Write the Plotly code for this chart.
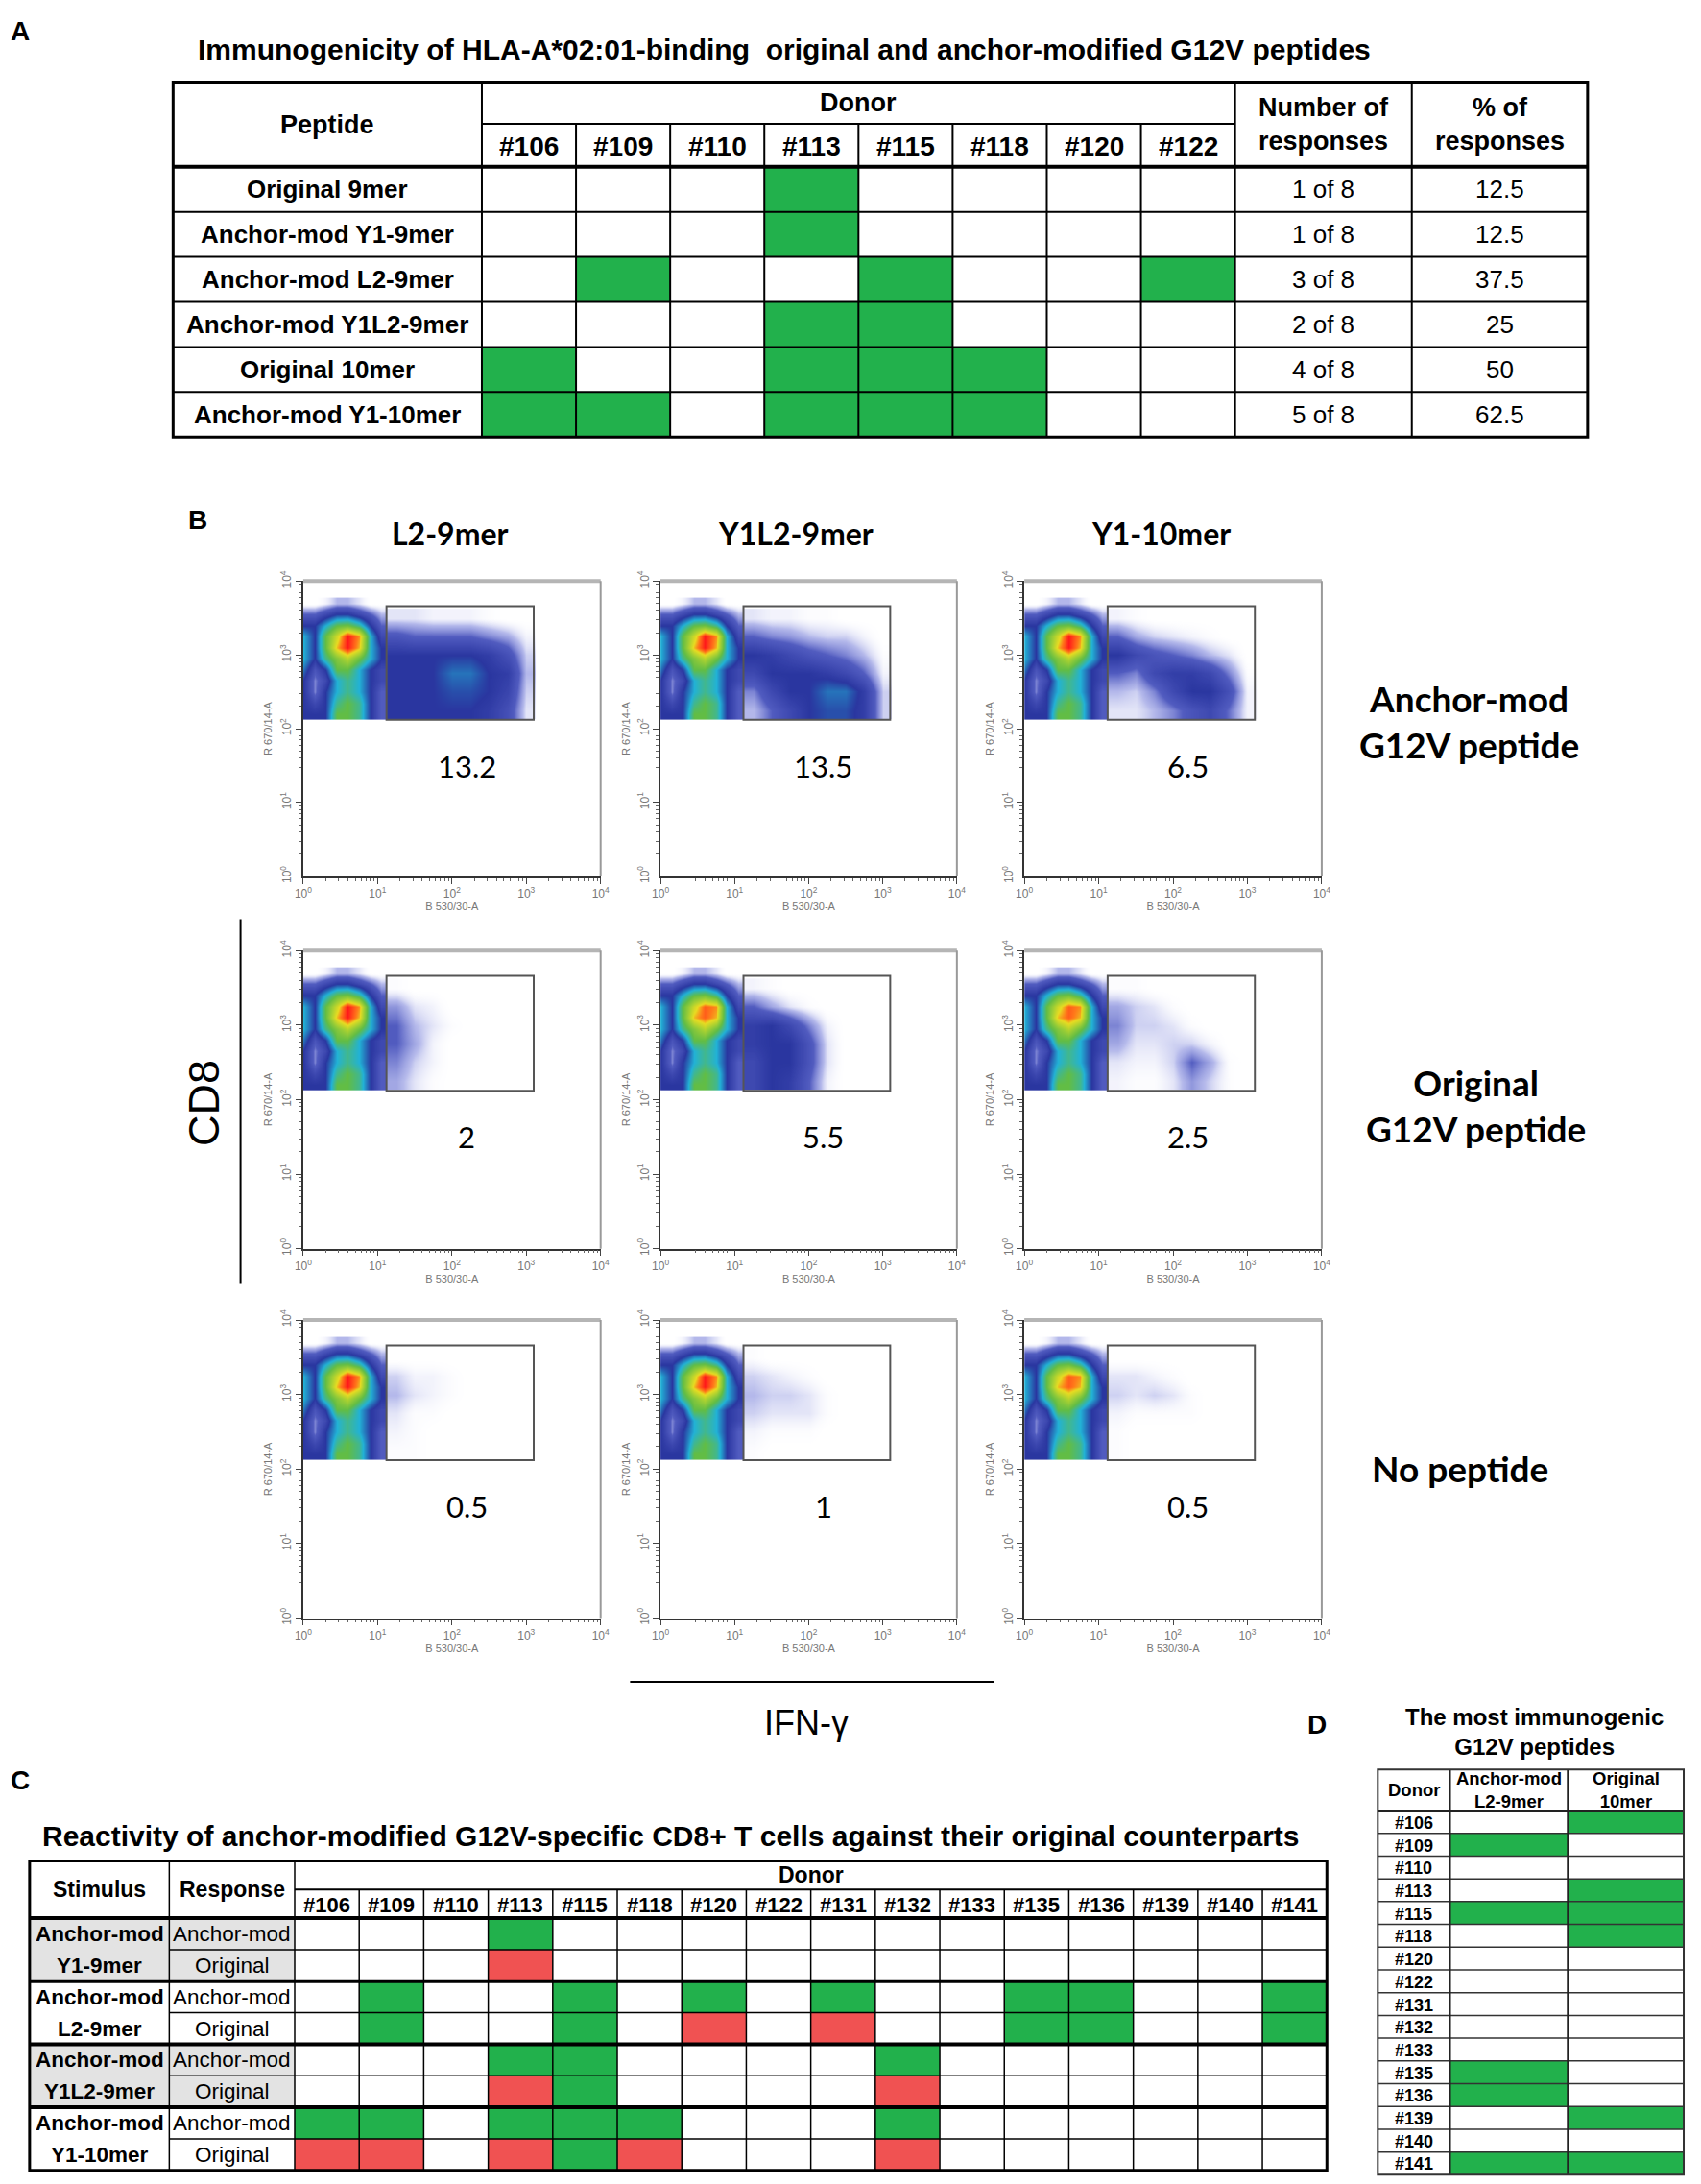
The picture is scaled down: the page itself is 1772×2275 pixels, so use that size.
import numpy as np
import plotly.graph_objects as go

# ---------------- data ----------------
# Panel A
A_DONORS = ['#106', '#109', '#110', '#113', '#115', '#118', '#120', '#122']
A_PEPTIDES = ['Original 9mer', 'Anchor-mod Y1-9mer', 'Anchor-mod L2-9mer',
              'Anchor-mod Y1L2-9mer', 'Original 10mer', 'Anchor-mod Y1-10mer']
A_RESPONSE = [
    [0, 0, 0, 1, 0, 0, 0, 0],
    [0, 0, 0, 1, 0, 0, 0, 0],
    [0, 1, 0, 0, 1, 0, 0, 1],
    [0, 0, 0, 1, 1, 0, 0, 0],
    [1, 0, 0, 1, 1, 1, 0, 0],
    [1, 1, 0, 1, 1, 1, 0, 0],
]
A_NUMBER = ['1 of 8', '1 of 8', '3 of 8', '2 of 8', '4 of 8', '5 of 8']
A_PERCENT = [12.5, 12.5, 37.5, 25, 50, 62.5]

# Panel B (flow plots, log10 decades)
B_COLUMNS = ['L2-9mer', 'Y1L2-9mer', 'Y1-10mer']
B_ROWS = ['Anchor-mod<br>G12V peptide', 'Original<br>G12V peptide', 'No peptide']
B_FREQ = [[13.2, 13.5, 6.5], [2, 5.5, 2.5], [0.5, 1, 0.5]]
GATE_X = [1.12, 3.1]
GATE_Y = [2.12, 3.66]

# CD8+ IFN-g negative population, density level (top row first)
NEG_X = [0.0, 0.15, 0.3, 0.45, 0.6, 0.75, 0.9, 1.05]
NEG_Y = [3.7, 3.55, 3.4, 3.25, 3.1, 2.95, 2.8, 2.65, 2.5, 2.35, 2.2]
NEG_GRID = [
    [0.0, 0.0, 0.2, 0.5, 0.5, 0.3, 0.0, 0.0],
    [1.0, 1.0, 1.5, 2.0, 2.0, 1.5, 1.0, 0.5],
    [2.0, 2.0, 3.0, 4.0, 4.2, 3.5, 2.0, 1.0],
    [3.0, 2.0, 4.0, 5.5, 7.0, 6.2, 3.0, 1.5],
    [3.0, 2.0, 4.0, 6.0, 7.0, 6.0, 3.0, 2.0],
    [3.0, 2.0, 3.5, 4.5, 5.2, 4.2, 3.0, 2.0],
    [2.5, 1.2, 2.0, 4.0, 4.0, 3.0, 2.0, 1.5],
    [2.0, 0.8, 1.5, 3.0, 3.5, 3.0, 2.0, 1.5],
    [2.0, 0.8, 2.0, 3.0, 3.5, 3.0, 2.0, 1.0],
    [2.0, 1.5, 2.0, 3.5, 4.0, 3.5, 2.0, 1.0],
    [2.0, 2.0, 2.0, 4.0, 4.0, 3.5, 2.0, 1.0],
]
CORE_PEAK = [[7, 7, 7], [7, 6.5, 6.5], [7, 7, 6.5]]

# IFN-g positive events (top row first)
POS_X = [1.25, 1.5, 1.75, 2.0, 2.25, 2.5, 2.75, 3.0]
POS_Y = [3.5, 3.25, 3.0, 2.75, 2.5, 2.25]
POS_ANCHOR_L2 = [
    [0.3, 0.3, 0.2, 0.2, 0.2, 0.1, 0.0, 0.0],
    [1.2, 1.0, 1.0, 1.0, 1.0, 0.8, 0.6, 0.2],
    [2.0, 2.0, 2.0, 2.0, 2.0, 1.8, 1.3, 0.4],
    [2.0, 2.0, 2.0, 2.5, 2.5, 2.0, 1.8, 0.5],
    [2.0, 2.0, 2.0, 2.2, 2.2, 2.0, 1.6, 0.4],
    [2.0, 2.0, 2.0, 2.0, 2.0, 1.8, 1.3, 0.3],
]
POS_ANCHOR_Y1L2 = [
    [0.3, 0.2, 0.2, 0.1, 0.1, 0.0, 0.0, 0.0],
    [1.0, 0.8, 0.7, 0.5, 0.4, 0.4, 0.2, 0.0],
    [2.0, 1.8, 1.5, 1.2, 1.0, 0.8, 0.5, 0.1],
    [1.5, 2.0, 2.0, 2.0, 1.8, 1.5, 1.0, 0.2],
    [0.8, 1.5, 2.0, 2.0, 2.5, 2.5, 1.8, 0.4],
    [0.5, 1.0, 1.5, 2.0, 2.2, 2.2, 1.8, 0.4],
]
POS_ANCHOR_Y1_10 = [
    [0.2, 0.1, 0.0, 0.0, 0.0, 0.0, 0.0, 0.0],
    [1.0, 0.6, 0.4, 0.3, 0.2, 0.1, 0.0, 0.0],
    [2.0, 1.5, 1.2, 1.0, 0.8, 0.5, 0.3, 0.0],
    [1.0, 0.8, 1.5, 1.8, 1.8, 1.5, 0.8, 0.1],
    [0.5, 0.4, 0.8, 1.5, 2.0, 2.0, 1.3, 0.2],
    [0.3, 0.3, 0.5, 0.8, 1.2, 1.5, 0.9, 0.2],
]
POS_ORIG_L2 = [
    [0.1, 0.0, 0.0, 0.0, 0.0, 0.0, 0.0, 0.0],
    [0.7, 0.3, 0.2, 0.0, 0.0, 0.0, 0.0, 0.0],
    [1.0, 0.5, 0.3, 0.1, 0.0, 0.0, 0.0, 0.0],
    [1.0, 0.6, 0.2, 0.0, 0.0, 0.0, 0.0, 0.0],
    [0.8, 0.4, 0.2, 0.0, 0.0, 0.0, 0.0, 0.0],
    [0.6, 0.3, 0.1, 0.0, 0.0, 0.0, 0.0, 0.0],
]
POS_ORIG_Y1L2 = [
    [0.2, 0.1, 0.0, 0.0, 0.0, 0.0, 0.0, 0.0],
    [1.0, 0.6, 0.3, 0.1, 0.0, 0.0, 0.0, 0.0],
    [1.8, 2.0, 1.5, 0.8, 0.2, 0.0, 0.0, 0.0],
    [1.8, 2.0, 2.0, 1.2, 0.3, 0.0, 0.0, 0.0],
    [1.5, 2.0, 2.0, 1.2, 0.3, 0.0, 0.0, 0.0],
    [1.5, 2.0, 1.8, 1.0, 0.2, 0.0, 0.0, 0.0],
]
POS_ORIG_Y1_10 = [
    [0.1, 0.1, 0.0, 0.0, 0.0, 0.0, 0.0, 0.0],
    [0.6, 0.4, 0.3, 0.1, 0.0, 0.0, 0.0, 0.0],
    [0.8, 0.4, 0.4, 0.3, 0.1, 0.0, 0.0, 0.0],
    [0.6, 0.3, 0.3, 0.4, 0.4, 0.2, 0.0, 0.0],
    [0.3, 0.2, 0.2, 0.4, 1.0, 0.6, 0.1, 0.0],
    [0.2, 0.1, 0.1, 0.3, 0.7, 0.4, 0.1, 0.0],
]
POS_NONE_L2 = [
    [0.0, 0.0, 0.0, 0.0, 0.0, 0.0, 0.0, 0.0],
    [0.4, 0.2, 0.2, 0.1, 0.0, 0.0, 0.0, 0.0],
    [0.5, 0.3, 0.2, 0.1, 0.0, 0.0, 0.0, 0.0],
    [0.3, 0.1, 0.1, 0.0, 0.0, 0.0, 0.0, 0.0],
    [0.2, 0.1, 0.0, 0.0, 0.0, 0.0, 0.0, 0.0],
    [0.1, 0.1, 0.0, 0.0, 0.0, 0.0, 0.0, 0.0],
]
POS_NONE_Y1L2 = [
    [0.1, 0.0, 0.0, 0.0, 0.0, 0.0, 0.0, 0.0],
    [0.4, 0.3, 0.2, 0.1, 0.0, 0.0, 0.0, 0.0],
    [0.5, 0.4, 0.4, 0.3, 0.1, 0.0, 0.0, 0.0],
    [0.4, 0.3, 0.3, 0.3, 0.1, 0.0, 0.0, 0.0],
    [0.2, 0.1, 0.1, 0.1, 0.0, 0.0, 0.0, 0.0],
    [0.1, 0.0, 0.0, 0.0, 0.0, 0.0, 0.0, 0.0],
]
POS_NONE_Y1_10 = [
    [0.0, 0.0, 0.0, 0.0, 0.0, 0.0, 0.0, 0.0],
    [0.3, 0.3, 0.2, 0.1, 0.0, 0.0, 0.0, 0.0],
    [0.4, 0.3, 0.4, 0.3, 0.1, 0.0, 0.0, 0.0],
    [0.2, 0.1, 0.1, 0.1, 0.1, 0.0, 0.0, 0.0],
    [0.1, 0.0, 0.0, 0.0, 0.0, 0.0, 0.0, 0.0],
    [0.1, 0.0, 0.0, 0.0, 0.0, 0.0, 0.0, 0.0],
]
POS_GRIDS = [
    [POS_ANCHOR_L2, POS_ANCHOR_Y1L2, POS_ANCHOR_Y1_10],
    [POS_ORIG_L2, POS_ORIG_Y1L2, POS_ORIG_Y1_10],
    [POS_NONE_L2, POS_NONE_Y1L2, POS_NONE_Y1_10],
]

# Panel C
C_DONORS = ['#106', '#109', '#110', '#113', '#115', '#118', '#120', '#122',
            '#131', '#132', '#133', '#135', '#136', '#139', '#140', '#141']
C_STIMULI = ['Y1-9mer', 'L2-9mer', 'Y1L2-9mer', 'Y1-10mer']
# 1 = response (green), 2 = no cross-reactivity (red)
C_ANCHOR = [
    [0, 0, 0, 1, 0, 0, 0, 0, 0, 0, 0, 0, 0, 0, 0, 0],
    [0, 1, 0, 0, 1, 0, 1, 0, 1, 0, 0, 1, 1, 0, 0, 1],
    [0, 0, 0, 1, 1, 0, 0, 0, 0, 1, 0, 0, 0, 0, 0, 0],
    [1, 1, 0, 1, 1, 1, 0, 0, 0, 1, 0, 0, 0, 0, 0, 0],
]
C_ORIGINAL = [
    [0, 0, 0, 2, 0, 0, 0, 0, 0, 0, 0, 0, 0, 0, 0, 0],
    [0, 1, 0, 0, 1, 0, 2, 0, 2, 0, 0, 1, 1, 0, 0, 1],
    [0, 0, 0, 2, 1, 0, 0, 0, 0, 2, 0, 0, 0, 0, 0, 0],
    [2, 2, 0, 2, 1, 2, 0, 0, 0, 2, 0, 0, 0, 0, 0, 0],
]

# Panel D
D_DONORS = C_DONORS
D_ANCHOR_L2 = [0, 1, 0, 0, 1, 0, 0, 0, 0, 0, 0, 1, 1, 0, 0, 1]
D_ORIGINAL_10 = [1, 0, 0, 1, 1, 1, 0, 0, 0, 0, 0, 0, 0, 1, 0, 1]

# ---------------- styling / helpers ----------------
W, H = 1772, 2275
OFF = 8  # default body margin of the html page
FIG_W, FIG_H = W - 2 * OFF, H - 2 * OFF
ARIAL = 'Liberation Sans, Arial, sans-serif'
CALIBRI = 'Lato, Open Sans, sans-serif'
GREEN = '#22B14C'
RED = '#F05252'
GRAY = '#E3E3E3'
CELL_FILL = {0: 'white', 1: GREEN, 2: RED}

FLOW_SCALE = [
    [0.0, 'rgba(255,255,255,0)'],
    [0.07, 'rgba(90,100,210,0.45)'],
    [1 / 7, 'rgba(50,62,180,0.85)'],
    [2 / 7, '#2a36a0'],
    [3 / 7, '#22b2d6'],
    [4 / 7, '#62bd45'],
    [5 / 7, '#a9d132'],
    [5.8 / 7, '#e8dc22'],
    [6.3 / 7, '#ff7a1a'],
    [1.0, '#ff1a1a'],
]

shapes = []
annotations = []


def px(x):
    return (x - OFF) / FIG_W


def py(y):
    return 1 - (y - OFF) / FIG_H


def rect(x0, y0, x1, y1, fill, lw=0, lc='black'):
    shapes.append(dict(type='rect', xref='paper', yref='paper',
                       x0=px(x0), x1=px(x1), y0=py(y1), y1=py(y0),
                       fillcolor=fill, line=dict(width=lw, color=lc)))


def hline(x0, x1, y, w=2, c='black'):
    shapes.append(dict(type='line', xref='paper', yref='paper',
                       x0=px(x0), x1=px(x1), y0=py(y), y1=py(y),
                       line=dict(color=c, width=w)))


def vline(x, y0, y1, w=2, c='black'):
    shapes.append(dict(type='line', xref='paper', yref='paper',
                       x0=px(x), x1=px(x), y0=py(y0), y1=py(y1),
                       line=dict(color=c, width=w)))


def text(x, y, s, size, bold=False, family=ARIAL, color='black', **kw):
    annotations.append(dict(xref='paper', yref='paper', x=px(x), y=py(y),
                            text=f'<b>{s}</b>' if bold else s, showarrow=False,
                            font=dict(size=size, family=family, color=color),
                            xanchor='center', yanchor='middle', **kw))


fig = go.Figure()

# ---------------- panel A ----------------
text(12, 22, 'A', 28, bold=True)
text(816, 41, 'Immunogenicity of HLA-A*02:01-binding  original and anchor-modified G12V peptides', 30, bold=True)

a_left, a_top, a_donor_line, a_head = 173, 75, 119, 164
a_row_h = 47.3
a_pep_w, a_don_w, a_num_w, a_pct_w = 325, 99.1, 186, 185
a_don_x = [a_left + a_pep_w + a_don_w * j for j in range(len(A_DONORS) + 1)]
a_num_x = a_don_x[-1]
a_pct_x = a_num_x + a_num_w
a_right = a_pct_x + a_pct_w
a_rows_y = [a_head + a_row_h * i for i in range(len(A_PEPTIDES) + 1)]

for i, row in enumerate(A_RESPONSE):
    for j, v in enumerate(row):
        if v:
            rect(a_don_x[j], a_rows_y[i], a_don_x[j + 1], a_rows_y[i + 1], GREEN)
for y in a_rows_y[1:-1]:
    hline(a_left, a_right, y, 2)
hline(a_don_x[0], a_don_x[-1], a_donor_line, 2)
hline(a_left, a_right, a_head, 4)
for x in a_don_x[1:-1]:
    vline(x, a_donor_line, a_rows_y[-1], 2)
for x in [a_don_x[0], a_num_x, a_pct_x]:
    vline(x, a_top, a_rows_y[-1], 2)
rect(a_left, a_top, a_right, a_rows_y[-1], 'rgba(0,0,0,0)', lw=3)

text((a_left + a_don_x[0]) / 2, (a_top + a_head) / 2, 'Peptide', 27, bold=True)
text((a_don_x[0] + a_don_x[-1]) / 2, (a_top + a_donor_line) / 2, 'Donor', 27, bold=True)
for j, d in enumerate(A_DONORS):
    text((a_don_x[j] + a_don_x[j + 1]) / 2, (a_donor_line + a_head) / 2 + 1, d, 28, bold=True)
text((a_num_x + a_pct_x) / 2, (a_top + a_head) / 2, 'Number of<br>responses', 27, bold=True)
text((a_pct_x + a_right) / 2, (a_top + a_head) / 2, '% of<br>responses', 27, bold=True)
for i, pep in enumerate(A_PEPTIDES):
    yc = (a_rows_y[i] + a_rows_y[i + 1]) / 2
    text((a_left + a_don_x[0]) / 2, yc, pep, 26, bold=True)
    text((a_num_x + a_pct_x) / 2, yc, A_NUMBER[i], 26)
    text((a_pct_x + a_right) / 2, yc, f'{A_PERCENT[i]:g}', 26)

# ---------------- panel B ----------------
text(199, 535, 'B', 28, bold=True)
PLOT_X = [(310, 623), (686, 998), (1069, 1382)]
PLOT_Y = [(599, 909), (987, 1300), (1375, 1688)]
COL_TITLE_X = [465, 828, 1213]
ROW_LABEL_XY = [(1537, 746), (1544, 1150), (1528, 1531)]

tick_vals = [0, 1, 2, 3, 4]
tick_text = [f'10<sup>{k}</sup>' for k in tick_vals]
minor_vals = [k + np.log10(m) for k in range(4) for m in range(2, 10)]

for r in range(3):
    for c in range(3):
        n = r * 3 + c + 1
        xr = 'x' if n == 1 else f'x{n}'
        yr = 'y' if n == 1 else f'y{n}'
        neg = np.minimum(np.flipud(np.array(NEG_GRID)), CORE_PEAK[r][c])
        pos = np.flipud(np.array(POS_GRIDS[r][c]))
        for gx, gy, gz in [(NEG_X, NEG_Y[::-1], neg), (POS_X, POS_Y[::-1], pos)]:
            fig.add_trace(go.Heatmap(x=gx, y=gy, z=gz, xaxis=xr, yaxis=yr,
                                     zmin=0, zmax=7, colorscale=FLOW_SCALE,
                                     showscale=False, zsmooth='best', hoverinfo='skip'))
        axis_common = dict(range=[0, 4], showgrid=False, zeroline=False,
                           showline=True, linecolor='#333', linewidth=1.5,
                           ticks='outside', ticklen=6, tickcolor='#444',
                           tickvals=tick_vals, ticktext=tick_text,
                           tickfont=dict(size=12, family=ARIAL, color='#777'),
                           minor=dict(tickvals=minor_vals, ticks='outside',
                                      ticklen=3, tickcolor='#666'))
        fig.update_layout(**{
            ('xaxis' if n == 1 else f'xaxis{n}'): dict(
                domain=[px(PLOT_X[c][0]), px(PLOT_X[c][1])], anchor=yr,
                title=dict(text='B 530/30-A', standoff=2,
                           font=dict(size=11, family=ARIAL, color='#777')),
                **axis_common),
            ('yaxis' if n == 1 else f'yaxis{n}'): dict(
                domain=[py(PLOT_Y[r][1]), py(PLOT_Y[r][0])], anchor=xr,
                tickangle=-90,
                title=dict(text='R 670/14-A', standoff=4,
                           font=dict(size=11, family=ARIAL, color='#777')),
                **axis_common),
        })
        shapes.append(dict(type='rect', xref=xr, yref=yr,
                           x0=GATE_X[0], x1=GATE_X[1], y0=GATE_Y[0], y1=GATE_Y[1],
                           line=dict(color='#555', width=2)))
        shapes.append(dict(type='line', xref=f'{xr} domain', yref=f'{yr} domain',
                           x0=0, x1=1, y0=1, y1=1, line=dict(color='#b5b5b5', width=4)))
        shapes.append(dict(type='line', xref=f'{xr} domain', yref=f'{yr} domain',
                           x0=1, x1=1, y0=0, y1=1, line=dict(color='#999', width=2)))
        annotations.append(dict(xref=xr, yref=yr, x=2.2, y=1.5, showarrow=False,
                                text=f'{B_FREQ[r][c]:g}',
                                font=dict(size=31, family=CALIBRI, color='black')))

for c, title in enumerate(B_COLUMNS):
    text(COL_TITLE_X[c], 549, title, 32, bold=True, family=CALIBRI)
for (lx, ly), lab in zip(ROW_LABEL_XY, B_ROWS):
    text(lx, ly, lab, 37, bold=True, family=CALIBRI)
text(206, 1147, 'CD8', 45, textangle=-90)
vline(244, 954, 1336, 2)
text(840, 1798, 'IFN-γ', 36)
hline(654, 1037, 1755, 2)

# ---------------- panel C ----------------
text(12, 1858, 'C', 28, bold=True)
text(697, 1917, 'Reactivity of anchor-modified G12V-specific CD8+ T cells against their original counterparts', 30, bold=True)

c_left, c_top, c_donor_line, c_head = 22, 1943, 1973, 2003
c_row_h = 33.1
c_stim_w, c_resp_w, c_don_w = 147, 132, 67.9
c_resp_x = c_left + c_stim_w
c_don_x = [c_resp_x + c_resp_w + c_don_w * j for j in range(len(C_DONORS) + 1)]
c_right = c_don_x[-1]
n_rows = 2 * len(C_STIMULI)
c_rows_y = [c_head + c_row_h * i for i in range(n_rows + 1)]

for g, stim in enumerate(C_STIMULI):
    y0, y1, y2 = c_rows_y[2 * g], c_rows_y[2 * g + 1], c_rows_y[2 * g + 2]
    if g % 2 == 0:
        rect(c_left, y0, c_don_x[0], y2, GRAY)
    for j in range(len(C_DONORS)):
        if C_ANCHOR[g][j]:
            rect(c_don_x[j], y0, c_don_x[j + 1], y1, CELL_FILL[C_ANCHOR[g][j]])
        if C_ORIGINAL[g][j]:
            rect(c_don_x[j], y1, c_don_x[j + 1], y2, CELL_FILL[C_ORIGINAL[g][j]])
    text((c_left + c_resp_x) / 2, (y0 + y1) / 2, 'Anchor-mod', 22.5, bold=True)
    text((c_left + c_resp_x) / 2, (y1 + y2) / 2, stim, 22.5, bold=True)
    text((c_resp_x + c_don_x[0]) / 2, (y0 + y1) / 2, 'Anchor-mod', 22.5)
    text((c_resp_x + c_don_x[0]) / 2, (y1 + y2) / 2, 'Original', 22.5)
    hline(c_resp_x, c_right, y1, 1.5)
    if g > 0:
        hline(c_left, c_right, y0, 4)

for x in c_don_x[1:-1]:
    vline(x, c_donor_line, c_rows_y[-1], 1.5)
for x in [c_resp_x, c_don_x[0]]:
    vline(x, c_top, c_rows_y[-1], 1.5)
hline(c_don_x[0], c_right, c_donor_line, 2)
hline(c_left, c_right, c_head, 4)
rect(c_left, c_top, c_right, c_rows_y[-1], 'rgba(0,0,0,0)', lw=3)

text((c_left + c_resp_x) / 2, (c_top + c_head) / 2, 'Stimulus', 23, bold=True)
text((c_resp_x + c_don_x[0]) / 2, (c_top + c_head) / 2, 'Response', 23, bold=True)
text((c_don_x[0] + c_right) / 2, (c_top + c_donor_line) / 2, 'Donor', 23, bold=True)
for j, d in enumerate(C_DONORS):
    text((c_don_x[j] + c_don_x[j + 1]) / 2, (c_donor_line + c_head) / 2 + 1, d, 22, bold=True)

# ---------------- panel D ----------------
text(1377, 1800, 'D', 28, bold=True)
text(1606, 1807, 'The most immunogenic<br>G12V peptides', 24, bold=True)

d_left, d_top, d_head = 1441, 1847, 1890
d_row_h = 23.9
d_col_x = [d_left, d_left + 76, d_left + 200, d_left + 322]
d_rows_y = [d_head + d_row_h * i for i in range(len(D_DONORS) + 1)]

for i in range(len(D_DONORS)):
    for k, vals in enumerate([D_ANCHOR_L2, D_ORIGINAL_10]):
        if vals[i]:
            rect(d_col_x[k + 1], d_rows_y[i], d_col_x[k + 2], d_rows_y[i + 1], GREEN)
    text((d_col_x[0] + d_col_x[1]) / 2, (d_rows_y[i] + d_rows_y[i + 1]) / 2 + 1,
         D_DONORS[i], 18, bold=True)
for y in d_rows_y[1:-1]:
    hline(d_left, d_col_x[-1], y, 1.5, '#333')
hline(d_left, d_col_x[-1], d_head, 2, '#222')
for x in d_col_x[1:-1]:
    vline(x, d_top, d_rows_y[-1], 2, '#222')
rect(d_left, d_top, d_col_x[-1], d_rows_y[-1], 'rgba(0,0,0,0)', lw=2, lc='#333')
text((d_col_x[0] + d_col_x[1]) / 2, (d_top + d_head) / 2, 'Donor', 18.5, bold=True)
text((d_col_x[1] + d_col_x[2]) / 2, (d_top + d_head) / 2, 'Anchor-mod<br>L2-9mer', 18.5, bold=True)
text((d_col_x[2] + d_col_x[3]) / 2, (d_top + d_head) / 2, 'Original<br>10mer', 18.5, bold=True)

fig.update_layout(
    width=FIG_W, height=FIG_H,
    margin=dict(l=0, r=0, t=0, b=0),
    paper_bgcolor='white', plot_bgcolor='white',
    showlegend=False,
    shapes=shapes,
    annotations=annotations,
)

fig.write_html('out.html')
